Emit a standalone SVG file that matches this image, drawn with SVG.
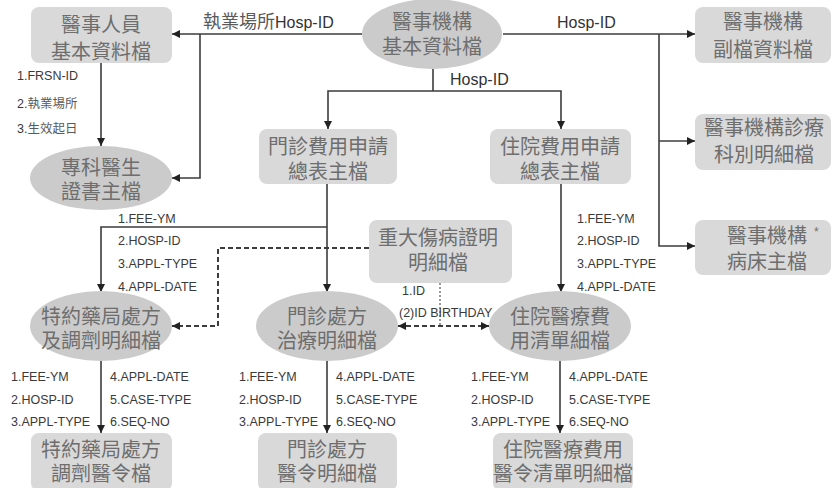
<svg xmlns="http://www.w3.org/2000/svg" width="832" height="488" viewBox="0 0 832 488">
  <style>
    .box { fill: #d9d9d9; }
    .oval { fill: #cbcbcb; }
    .name { font-family: "Liberation Sans", "Noto Sans CJK TC", sans-serif; font-size: 20px; fill: #6e6e6e; text-anchor: middle; }
    .key { font-family: "Liberation Sans", "Noto Sans CJK TC", sans-serif; font-size: 12.5px; fill: #3a3a3a; }
    .lbl { font-family: "Liberation Sans", "Noto Sans CJK TC", sans-serif; font-size: 16px; fill: #333; }
    .cjk { fill: #5a5a5a; }
    .wire { fill: none; stroke: #3c3c3c; stroke-width: 1.6; }
    .dash { fill: none; stroke: #3c3c3c; stroke-width: 2; stroke-dasharray: 5 3; }
    .dot { fill: none; stroke: #555; stroke-width: 1.2; stroke-dasharray: 2 2; }
  </style>
  <defs>
    <marker id="arrow" viewBox="0 0 10 10" refX="10" refY="5" markerWidth="9" markerHeight="8" markerUnits="userSpaceOnUse" orient="auto-start-reverse">
      <path d="M0,0 L10,5 L0,10 Z" fill="#222"/>
    </marker>
  </defs>

  <rect width="832" height="488" fill="#ffffff"/>

  <!-- connectors -->
  <g id="connectors">
    <path class="wire" d="M362,34 H172" marker-end="url(#arrow)"/>
    <path class="wire" d="M200,34 V178 H172" marker-end="url(#arrow)"/>
    <path class="wire" d="M503,34 H695" marker-end="url(#arrow)"/>
    <path class="wire" d="M659,34 V246 H695" marker-end="url(#arrow)"/>
    <path class="wire" d="M659,141 H695" marker-end="url(#arrow)"/>
    <path class="wire" d="M433,69 V91"/>
    <path class="wire" d="M433,91 H328 V129" marker-end="url(#arrow)"/>
    <path class="wire" d="M433,91 H561 V129" marker-end="url(#arrow)"/>
    <path class="wire" d="M101,63 V146" marker-end="url(#arrow)"/>
    <path class="wire" d="M327,184 V292" marker-end="url(#arrow)"/>
    <path class="wire" d="M327,227 H101 V292" marker-end="url(#arrow)"/>
    <path class="wire" d="M561,184 V292" marker-end="url(#arrow)"/>
    <path class="dash" d="M369,248 H218 V326 H172" marker-end="url(#arrow)"/>
    <path class="dot" d="M440,283 V326"/>
    <path class="dash" d="M398,326 H489" marker-start="url(#arrow)" marker-end="url(#arrow)"/>
    <path class="wire" d="M101,361 V433" marker-end="url(#arrow)"/>
    <path class="wire" d="M327,361 V433" marker-end="url(#arrow)"/>
    <path class="wire" d="M560,361 V433" marker-end="url(#arrow)"/>

    <!-- connector labels -->
    <text class="lbl" x="203" y="28" font-size="15"><tspan class="cjk" font-size="18">執業場所</tspan>Hosp-ID</text>
    <text class="lbl" x="557" y="28">Hosp-ID</text>
    <text class="lbl" x="450" y="85">Hosp-ID</text>

    <text class="key" x="17" y="80" font-size="13">1.FRSN-ID</text>
    <text class="key" x="17" y="108" font-size="13">2.<tspan class="cjk">執業場所</tspan></text>
    <text class="key" x="17" y="133" font-size="13">3.<tspan class="cjk">生效起日</tspan></text>

    <text class="key" x="118" y="223">1.FEE-YM</text>
    <text class="key" x="118" y="245">2.HOSP-ID</text>
    <text class="key" x="118" y="268">3.APPL-TYPE</text>
    <text class="key" x="118" y="291">4.APPL-DATE</text>

    <text class="key" x="577" y="223">1.FEE-YM</text>
    <text class="key" x="577" y="245">2.HOSP-ID</text>
    <text class="key" x="577" y="268">3.APPL-TYPE</text>
    <text class="key" x="577" y="291">4.APPL-DATE</text>

    <text class="key" x="402" y="295" font-size="10.5">1.ID</text>
    <text class="key" x="399" y="317" font-size="12">(2)ID BIRTHDAY</text>

    <text class="key" x="11" y="381">1.FEE-YM</text>
    <text class="key" x="11" y="404">2.HOSP-ID</text>
    <text class="key" x="11" y="426">3.APPL-TYPE</text>
    <text class="key" x="110" y="381">4.APPL-DATE</text>
    <text class="key" x="110" y="404">5.CASE-TYPE</text>
    <text class="key" x="110" y="426">6.SEQ-NO</text>

    <text class="key" x="239" y="381">1.FEE-YM</text>
    <text class="key" x="239" y="404">2.HOSP-ID</text>
    <text class="key" x="239" y="426">3.APPL-TYPE</text>
    <text class="key" x="336" y="381">4.APPL-DATE</text>
    <text class="key" x="336" y="404">5.CASE-TYPE</text>
    <text class="key" x="336" y="426">6.SEQ-NO</text>

    <text class="key" x="471" y="381">1.FEE-YM</text>
    <text class="key" x="471" y="404">2.HOSP-ID</text>
    <text class="key" x="471" y="426">3.APPL-TYPE</text>
    <text class="key" x="569" y="381">4.APPL-DATE</text>
    <text class="key" x="569" y="404">5.CASE-TYPE</text>
    <text class="key" x="569" y="426">6.SEQ-NO</text>
  </g>

  <!-- nodes: two-line names are single text elements -->
  <g id="staff-basic">
    <rect class="box" x="31" y="7" width="141" height="56" rx="8"/>
    <text class="name" x="101" y="32">醫事人員<tspan x="101" dy="27">基本資料檔</tspan></text>
  </g>
  <g id="hosp-basic">
    <ellipse class="oval" cx="432" cy="34" rx="70" ry="35"/>
    <text class="name" x="432" y="29">醫事機構<tspan x="432" dy="25">基本資料檔</tspan></text>
  </g>
  <g id="hosp-sub">
    <rect class="box" x="695" y="7" width="136" height="56" rx="8"/>
    <text class="name" x="763" y="29">醫事機構<tspan x="763" dy="28">副檔資料檔</tspan></text>
  </g>
  <g id="hosp-dept">
    <rect class="box" x="695" y="114" width="136" height="56" rx="8"/>
    <text class="name" x="764" y="135">醫事機構診療<tspan x="764" dy="27">科別明細檔</tspan></text>
  </g>
  <g id="hosp-bed">
    <rect class="box" x="695" y="220" width="136" height="55" rx="8"/>
    <text class="name" x="727" y="243" style="text-anchor:start">醫事機構<tspan font-size="12" dx="7" dy="-7">*</tspan><tspan x="727" dy="33">病床主檔</tspan></text>
  </g>
  <g id="specialist-cert">
    <ellipse class="oval" cx="101" cy="178" rx="71" ry="32"/>
    <text class="name" x="101" y="175">專科醫生<tspan x="101" dy="24">證書主檔</tspan></text>
  </g>
  <g id="op-claim-summary">
    <rect class="box" x="259" y="129" width="138" height="55" rx="8"/>
    <text class="name" x="328" y="154">門診費用申請<tspan x="328" dy="25">總表主檔</tspan></text>
  </g>
  <g id="ip-claim-summary">
    <rect class="box" x="490" y="129" width="141" height="55" rx="8"/>
    <text class="name" x="560" y="154">住院費用申請<tspan x="560" dy="25">總表主檔</tspan></text>
  </g>
  <g id="catastrophic-illness">
    <rect class="box" x="369" y="220" width="143" height="63" rx="8"/>
    <text class="name" x="438" y="245">重大傷病證明<tspan x="438" dy="25">明細檔</tspan></text>
  </g>
  <g id="pharmacy-detail">
    <ellipse class="oval" cx="101" cy="326" rx="71" ry="35"/>
    <text class="name" x="101" y="324">特約藥局處方<tspan x="101" dy="24">及調劑明細檔</tspan></text>
  </g>
  <g id="op-rx-detail">
    <ellipse class="oval" cx="327" cy="326" rx="71" ry="35"/>
    <text class="name" x="327" y="324">門診處方<tspan x="327" dy="24">治療明細檔</tspan></text>
  </g>
  <g id="ip-cost-detail">
    <ellipse class="oval" cx="560" cy="326" rx="71" ry="35"/>
    <text class="name" x="560" y="324">住院醫療費<tspan x="560" dy="24">用清單細檔</tspan></text>
  </g>
  <g id="pharmacy-orders">
    <rect class="box" x="31" y="433" width="141" height="58" rx="8"/>
    <text class="name" x="101" y="457">特約藥局處方<tspan x="101" dy="24">調劑醫令檔</tspan></text>
  </g>
  <g id="op-orders">
    <rect class="box" x="258" y="433" width="139" height="58" rx="8"/>
    <text class="name" x="327" y="457">門診處方<tspan x="327" dy="24">醫令明細檔</tspan></text>
  </g>
  <g id="ip-orders">
    <rect class="box" x="493" y="433" width="140" height="58" rx="8"/>
    <text class="name" x="563" y="457">住院醫療費用<tspan x="563" dy="24">醫令清單明細檔</tspan></text>
  </g>
</svg>
